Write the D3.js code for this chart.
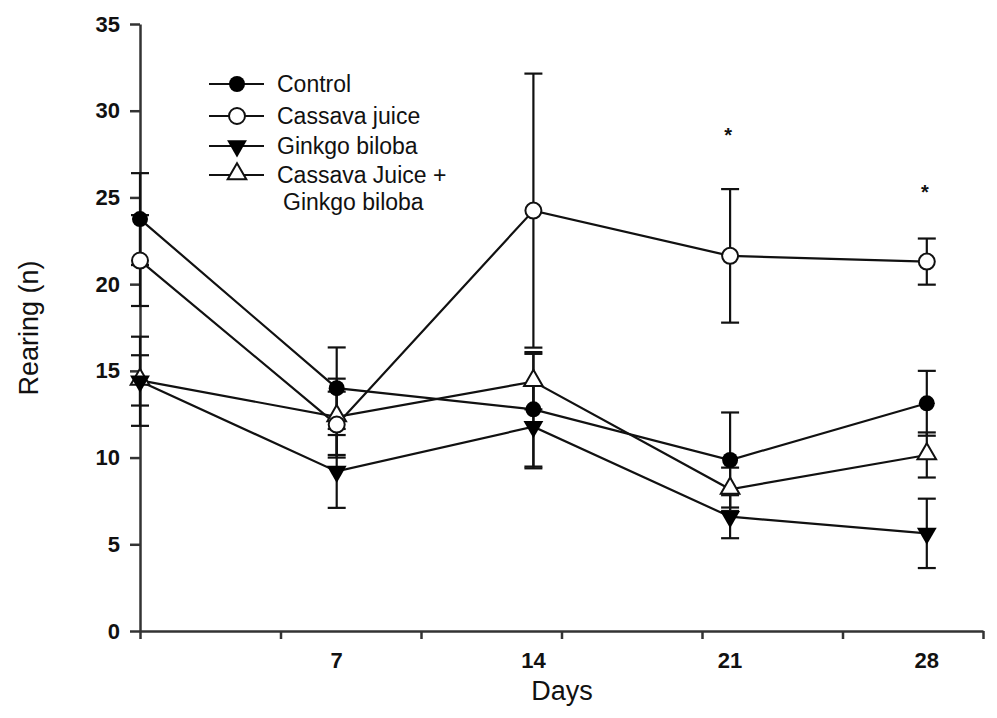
<!DOCTYPE html>
<html>
<head>
<meta charset="utf-8">
<style>
  body { margin: 0; background: #fff; }
  svg text { font-family: "Liberation Sans", Arial, sans-serif; fill: #111; }
</style>
</head>
<body>
<div id="chart"></div>
<script src="https://d3js.org/d3.v7.min.js"></script>
<script>
// days on the x axis
var days = [0, 7, 14, 21, 28];
var dayLabels = [7, 14, 21, 28];
var xTicks = [0, 5, 10, 15, 20, 25, 30];
var yTicks = [0, 5, 10, 15, 20, 25, 30, 35];

// means and SEM
var control      = [23.75, 14.0, 12.78, 9.86, 13.13];
var controlErr   = [2.65, 2.35, 3.3, 2.74, 1.87];
var cassava      = [21.36, 11.9, 24.24, 21.63, 21.3];
var cassavaErr   = [2.62, 1.9, 7.9, 3.85, 1.33];
var ginkgo       = [14.4, 9.2, 11.78, 6.59, 5.63];
var ginkgoErr    = [2.57, 2.1, 2.4, 1.24, 2.0];
var combo        = [14.45, 12.35, 14.38, 8.17, 10.15];
var comboErr     = [1.45, 2.2, 1.6, 1.25, 1.3];

var seriesNames = ["Control", "Cassava juice", "Ginkgo biloba", "Cassava Juice +"];
var markers = ["dot", "circle", "down", "up"];

// significance marks (day, value)
var stars = [[21, 28.8], [28, 25.5]];

var W = 997, H = 718;
var svg = d3.select("#chart").append("svg")
  .attr("width", W).attr("height", H);

var x = d3.scaleLinear().domain([0, 30]).range([140, 983]);
var y = d3.scaleLinear().domain([0, 35]).range([631, 24]);

// axes
var yAxis = svg.append("g")
  .attr("transform", "translate(140,0)")
  .call(d3.axisLeft(y).tickValues(yTicks).tickSize(10).tickSizeOuter(0).tickPadding(10));
yAxis.selectAll("text").style("font-size", "22px").style("font-weight", "bold").attr("fill", "#222");

var xAxis = svg.append("g")
  .attr("transform", "translate(0,631)")
  .call(d3.axisBottom(x).tickValues(xTicks).tickSize(8).tickSizeOuter(0).tickFormat(""));

svg.selectAll(".domain, .tick line").attr("stroke", "#333").attr("stroke-width", 2.5);

svg.selectAll(".dayLabel")
  .data(dayLabels)
  .enter().append("text")
  .attr("x", function(d) { return x(d); })
  .attr("y", 668)
  .attr("text-anchor", "middle")
  .style("font-size", "22px")
  .style("font-weight", "bold")
  .text(function(d) { return d; });

svg.append("text")
  .attr("x", 562).attr("y", 700)
  .attr("text-anchor", "middle")
  .style("font-size", "27px")
  .text("Days");

svg.append("text")
  .attr("transform", "translate(38,328) rotate(-90)")
  .attr("text-anchor", "middle")
  .style("font-size", "27px")
  .text("Rearing (n)");

// build series
var series = [
  { name: seriesNames[0], m: markers[0], vals: control, err: controlErr },
  { name: seriesNames[1], m: markers[1], vals: cassava, err: cassavaErr },
  { name: seriesNames[2], m: markers[2], vals: ginkgo, err: ginkgoErr },
  { name: seriesNames[3], m: markers[3], vals: combo, err: comboErr }
];

var line = d3.line()
  .x(function(d, i) { return x(days[i]); })
  .y(function(d) { return y(d); });

series.forEach(function(s) {
  svg.append("path")
    .attr("d", line(s.vals))
    .attr("fill", "none")
    .attr("stroke", "#111")
    .attr("stroke-width", 2.2);
});

// error bars
series.forEach(function(s) {
  var g = svg.append("g").attr("stroke", "#111").attr("stroke-width", 2.2);
  s.vals.forEach(function(v, i) {
    var cx = x(days[i]);
    var top = y(v + s.err[i]), bot = y(v - s.err[i]);
    g.append("line").attr("x1", cx).attr("x2", cx).attr("y1", top).attr("y2", bot);
    g.append("line").attr("x1", cx - 9).attr("x2", cx + 9).attr("y1", top).attr("y2", top);
    g.append("line").attr("x1", cx - 9).attr("x2", cx + 9).attr("y1", bot).attr("y2", bot);
  });
});

function drawMarker(g, type, cx, cy) {
  if (type == "dot") {
    g.append("circle").attr("cx", cx).attr("cy", cy).attr("r", 8).attr("fill", "#000");
  } else if (type == "circle") {
    g.append("circle").attr("cx", cx).attr("cy", cy).attr("r", 8)
      .attr("fill", "#fff").attr("stroke", "#111").attr("stroke-width", 2);
  } else if (type == "down") {
    g.append("path").attr("d", d3.symbol().type(d3.symbolTriangle).size(170))
      .attr("transform", "translate(" + cx + "," + cy + ") rotate(180)")
      .attr("fill", "#000");
  } else {
    g.append("path").attr("d", d3.symbol().type(d3.symbolTriangle).size(150))
      .attr("transform", "translate(" + cx + "," + (cy - 1) + ")")
      .attr("fill", "#fff").attr("stroke", "#111").attr("stroke-width", 2);
  }
}

// markers (draw combo and ginkgo first, circles on top like the original)
var order = [3, 2, 0, 1];
order.forEach(function(k) {
  var s = series[k];
  var g = svg.append("g");
  s.vals.forEach(function(v, i) { drawMarker(g, s.m, x(days[i]), y(v)); });
});

// significance stars
svg.selectAll(".star")
  .data(stars)
  .enter().append("text")
  .attr("x", function(d) { return x(d[0]) - 2; })
  .attr("y", function(d) { return y(d[1]) + 10; })
  .attr("text-anchor", "middle")
  .style("font-size", "20px")
  .style("font-weight", "bold")
  .text("*");

// legend
var legY = [84, 116, 146, 175];
var leg = svg.append("g");
series.forEach(function(s, i) {
  leg.append("line")
    .attr("x1", 209).attr("x2", 264)
    .attr("y1", legY[i]).attr("y2", legY[i])
    .attr("stroke", "#111").attr("stroke-width", 2.2);
  drawMarker(leg, s.m, 237, legY[i]);
  leg.append("text")
    .attr("x", 277).attr("y", legY[i] + 8)
    .style("font-size", "23px")
    .text(s.name);
});
leg.append("text")
  .attr("x", 283).attr("y", legY[3] + 35)
  .style("font-size", "23px")
  .text("Ginkgo biloba");
</script>
</body>
</html>
